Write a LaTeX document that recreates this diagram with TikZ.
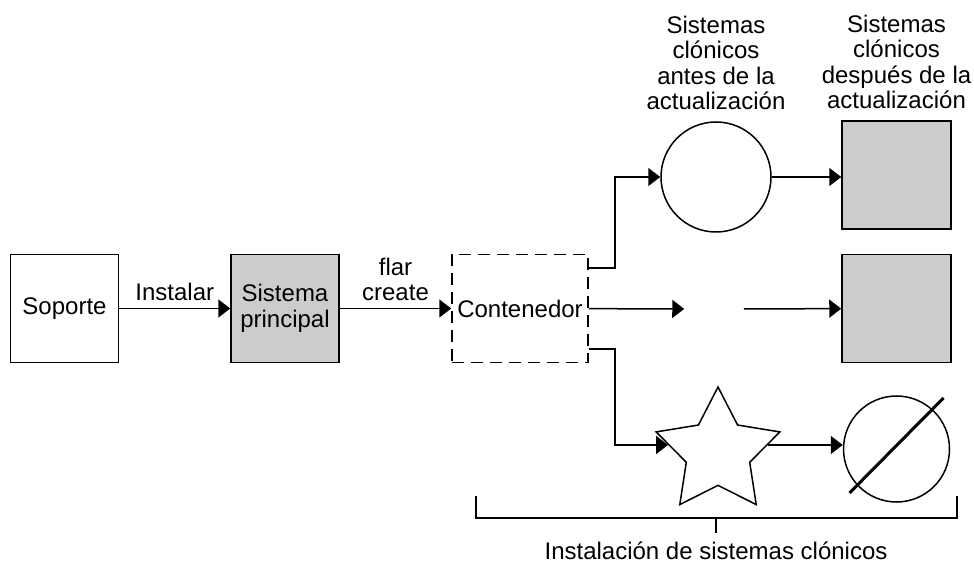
\documentclass[tikz,border=0pt]{standalone}
\usepackage{fontspec}
\setmainfont{Liberation Sans}
\usetikzlibrary{arrows.meta, positioning, shapes.geometric}
\definecolor{clonegray}{gray}{0.8}

\begin{document}
\begin{tikzpicture}[x=0.5pt,y=-0.5pt,line width=0.75pt,-{Triangle[length=6pt,width=9pt]},
    font=\fontsize{12}{12.75}\selectfont]
    \tikzstyle{box}=[draw, minimum width=54pt, minimum height=54pt, inner sep=0pt, align=center]
    \tikzstyle{main box}=[box, fill=clonegray]
    \tikzstyle{container}=[box, dash pattern=on 6pt off 3.5pt, minimum width=68pt]
    \tikzstyle{clone}=[draw, inner sep=0pt]
    \tikzstyle{caption}=[align=center]

    \useasboundingbox (0,0) rectangle (974,571);

    % Draw the source, the main system and the container
    \node[box] (soporte) at (64.5,308.5) {Soporte};
    \node[main box] (principal) at (285,308.5) {Sistema\\principal};
    \node[container] (cont) at (520,308.5) {Contenedor};

    % Draw the clones before the update
    \node[clone, circle, minimum size=55pt] (C-1) at (716,177) {};
    \node[inner sep=0pt, minimum width=29pt] (C-2) at (714,309) {};
    \node[clone, star, star points=5, star point ratio=1.95, minimum size=65pt] (C-3) at (718,452) {};

    % Draw the clones after the update
    \foreach \name / \y in {1/175,2/308.5}
        \node[main box, minimum width=54.5pt] (A-\name) at (896.5,\y) {};
    \node[clone, circle, minimum size=53pt] (A-3) at (896.5,449) {};
    \draw[-, line width=1.5pt] ([shift={(-47,44)}]A-3.center) -- ([shift={(47,-51)}]A-3.center);

    \node[caption, above=2pt of C-1] (cap-1) {Sistemas\\clónicos\\antes de la\\actualización};
    \node[caption, above=2pt of A-1] (cap-2) {Sistemas\\clónicos\\después de la\\actualización};

    \draw (soporte) -- node[above] {Instalar} (principal);
    \draw (principal) -- node[above, align=center] {flar\\create} (cont);

    \draw ([yshift=20.25pt]cont.east) -- ++(26,0) |- (C-1);
    \draw (cont) -- (C-2);
    \draw ([yshift=-20.25pt]cont.east) -- ++(26,0) |- (C-3.172);

    \draw (C-1.east) -- (C-1.east -| A-1.west);
    \draw (C-2) -- (A-2);
    \draw (C-3.8) -- (C-3.8 -| A-3.west);

    % Bracket round the clones
    \coordinate (B-l) at (476,496);
    \coordinate (B-r) at (957,496);
    \coordinate (B-m) at (716,518);
    \draw[-] (B-l) -- ++(0,22) -| (B-r);
    \draw[-] (B-m) -- ++(0,15);
    \node (inst) at (716,551) {Instalación de sistemas clónicos};
\end{tikzpicture}
\end{document}
